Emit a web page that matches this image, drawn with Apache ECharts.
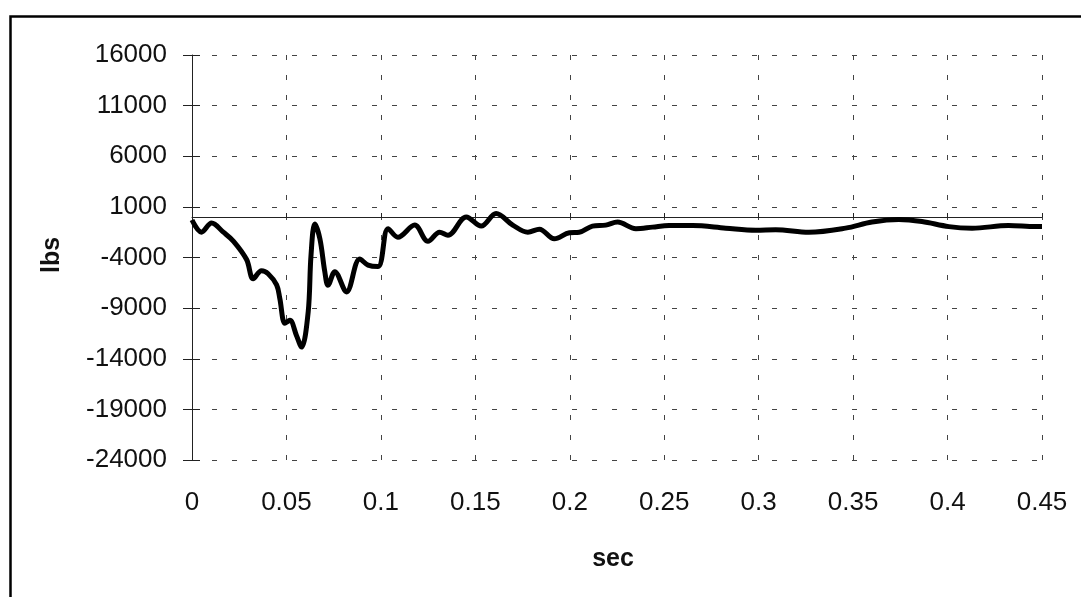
<!DOCTYPE html>
<html>
<head>
<meta charset="utf-8">
<script src="https://cdn.jsdelivr.net/npm/echarts@6/dist/echarts.min.js"></script>
<style>
html,body{margin:0;padding:0;background:#fff;}
#chart{width:1081px;height:597px;}
</style>
</head>
<body>
<div id="chart"></div>
<script>
// Time (sec) and force (lbs)
var timeSec = [0, 0.005, 0.0104, 0.0166, 0.022, 0.0289, 0.0324, 0.0368, 0.0403, 0.0448, 0.0465, 0.0492, 0.0518, 0.0553, 0.058, 0.0615, 0.063, 0.065, 0.0677, 0.0703, 0.072, 0.0756, 0.0818, 0.0888, 0.0932, 0.0985, 0.1038, 0.109, 0.1179, 0.1249, 0.1311, 0.1355, 0.1452, 0.1531, 0.161, 0.1698, 0.1778, 0.1839, 0.1918, 0.1998, 0.205, 0.212, 0.219, 0.2253, 0.235, 0.2438, 0.2526, 0.265, 0.2826, 0.2985, 0.309, 0.3266, 0.346, 0.36, 0.3742, 0.3865, 0.4007, 0.413, 0.4323, 0.4465, 0.45];
var forceLbs = [-300, -1500, -600, -1500, -2400, -4200, -6100, -5300, -5600, -6700, -8060, -10500, -10200, -11700, -12850, -9400, -3800, -700, -2150, -5400, -6750, -5400, -7400, -4150, -4750, -4900, -1150, -2000, -800, -2400, -1500, -1800, 0, -900, 350, -800, -1500, -1200, -2150, -1550, -1500, -900, -800, -500, -1150, -1000, -850, -850, -1100, -1300, -1250, -1500, -1100, -500, -250, -450, -950, -1100, -850, -950, -950];
var yTicks = [16000, 11000, 6000, 1000, -4000, -9000, -14000, -19000, -24000];
var xTicks = [0, 0.05, 0.1, 0.15, 0.2, 0.25, 0.3, 0.35, 0.4, 0.45];

var points = timeSec.map(function (t, i) { return [t, forceLbs[i]]; });

var FONT = 'Liberation Sans';
var dashed = { show: true, lineStyle: { color: '#444', width: 1, type: [5, 15] } };

var chart = echarts.init(document.getElementById('chart'), null, { renderer: 'canvas' });
chart.setOption({
  animation: false,
  backgroundColor: '#fff',
  grid: { left: 192, right: 39, top: 55, bottom: 137, containLabel: false },
  xAxis: [{
    type: 'value', min: xTicks[0], max: xTicks[xTicks.length - 1], interval: 0.05,
    position: 'bottom',
    axisLine: { show: false, onZero: false },
    axisTick: { show: false },
    axisLabel: {
      margin: 30, fontFamily: FONT, fontSize: 26, color: '#111',
      formatter: function (v) { return String(parseFloat(v.toFixed(2))); }
    },
    splitLine: dashed
  }, {
    type: 'value', min: xTicks[0], max: xTicks[xTicks.length - 1], interval: 0.05,
    position: 'top',
    axisLine: { show: true, onZero: true, onZeroAxisIndex: 0, lineStyle: { color: '#222', width: 1 } },
    axisTick: { show: true, length: 4, lineStyle: { color: '#222' } },
    axisLabel: { show: false },
    splitLine: { show: false }
  }],
  yAxis: [{
    type: 'value', min: yTicks[yTicks.length - 1], max: yTicks[0], interval: 5000,
    position: 'left',
    axisLine: { show: true, lineStyle: { color: '#222', width: 1 } },
    axisTick: { show: true, length: 9, lineStyle: { color: '#222' } },
    axisLabel: {
      margin: 25, fontFamily: FONT, fontSize: 26, color: '#111',
      formatter: function (v) { return String(Math.round(v)); }
    },
    splitLine: dashed
  }, {
    type: 'value', min: yTicks[yTicks.length - 1], max: yTicks[0], interval: 5000,
    position: 'left',
    axisLine: { show: false },
    axisTick: { show: true, inside: true, length: 8, lineStyle: { color: '#222' } },
    axisLabel: { show: false },
    splitLine: { show: false }
  }],
  graphic: [
    { type: 'rect', left: 8, top: 14, shape: { width: 1200, height: 700 }, style: { fill: 'none', stroke: '#000', lineWidth: 2.5 }, silent: true },
    { type: 'text', x: 613, y: 559, style: { text: 'sec', font: 'bold 25px "Liberation Sans"', fill: '#111', align: 'center', verticalAlign: 'middle' } },
    { type: 'text', x: 52, y: 255, rotation: Math.PI / 2, style: { text: 'lbs', font: 'bold 25px "Liberation Sans"', fill: '#111', align: 'center', verticalAlign: 'middle' } }
  ],
  series: [{
    type: 'line',
    xAxisIndex: 0, yAxisIndex: 0,
    data: points,
    showSymbol: false,
    smooth: 0.35,
    lineStyle: { color: '#000', width: 5 },
    z: 5
  }]
});
</script>
</body>
</html>
